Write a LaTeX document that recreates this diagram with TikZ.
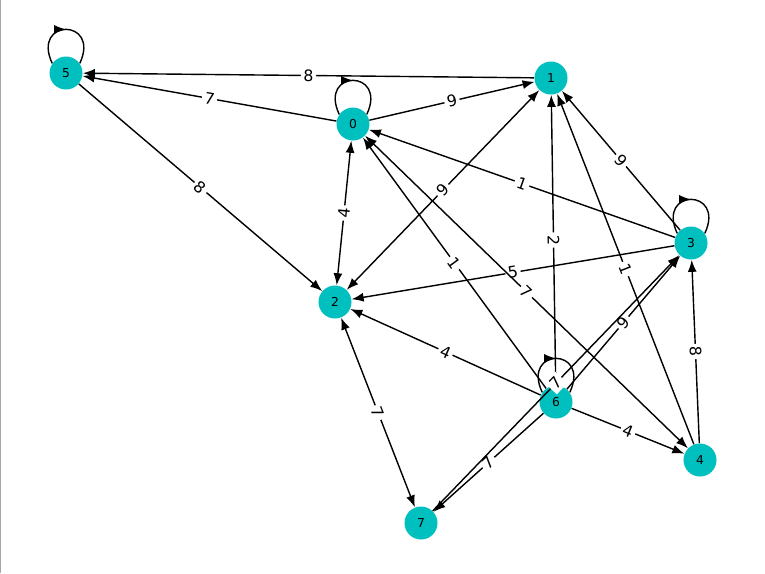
\documentclass[tikz,border=0pt]{standalone}
\usepackage{fontspec}
\setmainfont{DejaVu Sans}
\usetikzlibrary{arrows.meta,decorations.markings}
\definecolor{nodo}{RGB}{0,191,191}
\begin{document}
\begin{tikzpicture}[x=0.2mm,y=-0.2mm,
    vertex/.style={circle,fill=nodo,minimum size=6.6mm,inner sep=0pt,font=\scriptsize},
    edge/.style={-{Latex[length=2.4mm,width=1.8mm]},thick},
    both/.style={{Latex[length=2.4mm,width=1.8mm]}-{Latex[length=2.4mm,width=1.8mm]},thick},
    selfloop/.style={thick,postaction={decorate},decoration={markings,
        mark=at position 0.5 with {\arrow{Latex[length=2.4mm,width=1.8mm]}}}},
    wt/.style={midway,sloped,fill=white,inner sep=1.5pt,font=\small}]
    % marco
    \useasboundingbox (0,0) rectangle (765,573);
    \draw[gray!70] (0.5,0) -- (0.5,573);

    % vertices
    \node[vertex] (n0) at (353,124) {0};
    \node[vertex] (n1) at (551,78) {1};
    \node[vertex] (n2) at (335,302) {2};
    \node[vertex] (n3) at (691,243) {3};
    \node[vertex] (n4) at (700,460) {4};
    \node[vertex] (n5) at (66,73) {5};
    \node[vertex] (n6) at (556,402) {6};
    \node[vertex] (n7) at (421,523) {7};

    % lazos
    \foreach \v in {n0,n3,n5,n6}
        \draw[selfloop] (\v.145) .. controls +(115:10mm) and +(65:10mm) .. (\v.35);

    % aristas
    \draw[edge] (n1) -- (n5) node[wt] {8};
    \draw[edge] (n0) -- (n5) node[wt] {7};
    \draw[edge] (n0) -- (n1) node[wt] {9};
    \draw[edge] (n5) -- (n2) node[wt] {8};
    \draw[both] (n0) -- (n2) node[wt] {4};
    \draw[both] (n2) -- (n1) node[wt] {9};
    \draw[edge] (n3) -- (n0) node[wt] {1};
    \draw[edge] (n3) -- (n1) node[wt] {9};
    \draw[edge] (n3) -- (n2) node[wt] {5};
    \draw[edge] (n6) -- (n1) node[wt] {2};
    \draw[edge] (n6) -- (n0) node[wt] {1};
    \draw[both] (n0) -- (n4) node[wt] {7};
    \draw[edge] (n4) -- (n1) node[wt] {1};
    \draw[edge] (n4) -- (n3) node[wt] {8};
    \draw[edge] (n6) -- (n3) node[wt] {9};
    \draw[edge] (n6) -- (n2) node[wt] {4};
    \draw[edge] (n6) -- (n4) node[wt] {4};
    \draw[edge] (n6) -- (n7) node[wt] {7};
    \draw[edge] (n7) -- (n3) node[wt] {7};
    \draw[both] (n2) -- (n7) node[wt] {7};
\end{tikzpicture}
\end{document}
